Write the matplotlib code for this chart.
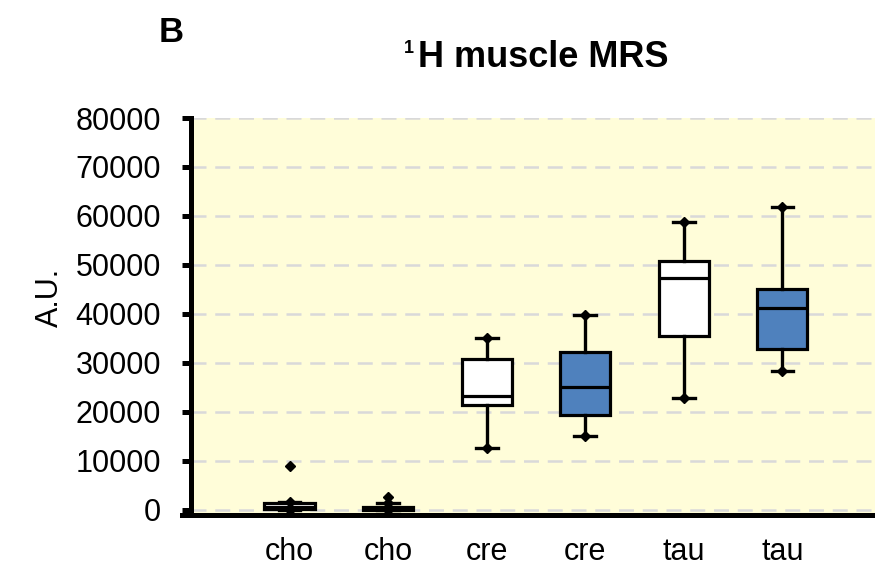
import matplotlib
matplotlib.use("Agg")
import matplotlib.pyplot as plt
from matplotlib.lines import Line2D

plt.rcParams['font.family'] = ['Liberation Sans', 'DejaVu Sans']

categories = ['cho', 'cho', 'cre', 'cre', 'tau', 'tau']
whislo = [0, 0, 12600, 15200, 22800, 28400]
q1 = [200, 0, 21400, 19300, 35600, 32800]
med = [700, 300, 23200, 25000, 47300, 41200]
q3 = [1500, 700, 30800, 32300, 50900, 45000]
whishi = [1700, 1400, 35000, 39700, 58800, 61800]
fliers = [[9000], [2600], [], [], [], []]
face_colors = ['white', '#4F81BD', 'white', '#4F81BD', 'white', '#4F81BD']
yticks = [0, 10000, 20000, 30000, 40000, 50000, 60000, 70000, 80000]

fig = plt.figure(figsize=(8.75, 5.69), dpi=100)
ax = fig.add_axes([191/875, 54.5/569, 1 - 191/875, (514.5-118)/569])
ax.set_facecolor('#FFFDD9')

positions = list(range(1, len(categories) + 1))
stats = []
for i in range(len(categories)):
    stats.append(dict(whislo=whislo[i], q1=q1[i], med=med[i], q3=q3[i],
                      whishi=whishi[i], fliers=fliers[i], label=categories[i]))

bp = ax.bxp(stats, positions=positions, widths=0.51, patch_artist=True,
            capwidths=0.22,
            boxprops=dict(edgecolor='black', linewidth=2.3),
            medianprops=dict(color='black', linewidth=2.3),
            whiskerprops=dict(color='black', linewidth=2.4),
            capprops=dict(color='black', linewidth=2.4),
            flierprops=dict(marker='D', markerfacecolor='black',
                            markeredgecolor='black', markersize=5.5),
            zorder=3)
for patch, c in zip(bp['boxes'], face_colors):
    patch.set_facecolor(c)

# diamond markers at whisker ends
ax.plot(positions, whislo, linestyle='none', marker='D', color='black',
        markersize=5, zorder=4)
ax.plot(positions, whishi, linestyle='none', marker='D', color='black',
        markersize=5, zorder=4)

ax.set_xlim(0, 6.94)
ax.set_ylim(-920, 80000)
ax.set_yticks(yticks)
ax.set_yticklabels([str(v) for v in yticks], fontsize=22)
ax.set_xticks(positions)
ax.set_xticklabels(categories, fontsize=22)
ax.tick_params(axis='x', length=0, pad=16)
ax.tick_params(axis='y', length=6.5, width=3.6, direction='out', pad=15)

ax.yaxis.grid(True, color='#D9D9D9', linestyle=(0, (6, 3.5)), linewidth=1.8)
ax.set_axisbelow(True)

for s in ['top', 'right']:
    ax.spines[s].set_visible(False)
ax.spines['left'].set_linewidth(3.6)
ax.spines['left'].set_bounds(0, 80000)
ax.spines['bottom'].set_visible(False)
ax.add_line(Line2D([-0.013, 1.0], [0, 0], transform=ax.transAxes,
                   color='black', linewidth=3.6, clip_on=False, zorder=5))

fig.text(50/875, 1 - 297/569, 'A.U.', rotation=90, fontsize=22,
         ha='center', va='center')
fig.text(171/875, 1 - 33/569, 'B', fontsize=25, fontweight='bold',
         ha='center', va='center')
fig.text(418/875, 1 - 66.7/569, 'H muscle MRS', fontsize=26,
         fontweight='bold', ha='left', va='baseline')
fig.text(404/875, 1 - 53/569, '1', fontsize=13,
         fontweight='bold', ha='left', va='baseline')

fig.savefig('out.png', dpi=100)
